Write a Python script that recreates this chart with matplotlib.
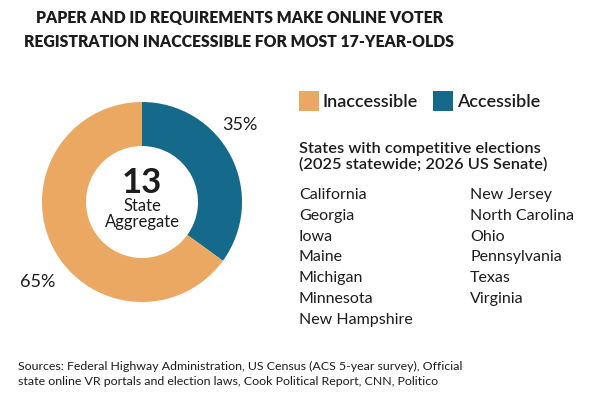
import matplotlib
matplotlib.use("Agg")
import matplotlib.pyplot as plt
from matplotlib.patches import Rectangle

plt.rcParams['font.family'] = ['Lato', 'DejaVu Sans']

title_lines = ["PAPER AND ID REQUIREMENTS MAKE ONLINE VOTER",
               "REGISTRATION INACCESSIBLE FOR MOST 17-YEAR-OLDS"]
categories = ["Inaccessible", "Accessible"]
values = [65, 35]
colors = ["#EBA862", "#156A8B"]
center_number = "13"
center_label = "State\nAggregate"
subheading = "States with competitive elections\n(2025 statewide; 2026 US Senate)"
states_col1 = ["California", "Georgia", "Iowa", "Maine", "Michigan", "Minnesota", "New Hampshire"]
states_col2 = ["New Jersey", "North Carolina", "Ohio", "Pennsylvania", "Texas", "Virginia"]
sources = ("Sources: Federal Highway Administration, US Census (ACS 5-year survey), Official\n"
           "state online VR portals and election laws, Cook Political Report, CNN, Politico")

W, H = 592, 406
fig = plt.figure(figsize=(W / 100, H / 100), dpi=100)
fig.patch.set_facecolor("white")
TXT = "#1c1c1c"

def px(x, y):
    return (x / W, 1 - y / H)

# Title
for i, line in enumerate(title_lines):
    fig.text(*px(239.5, 18 + i * 24), line, ha="center", va="center",
             fontsize=11.35, fontweight="heavy", color=TXT)

# Donut
cx, cy, r = 142, 203, 100
ax = fig.add_axes([(cx - r) / W, 1 - (cy + r) / H, 2 * r / W, 2 * r / H])
ax.pie(values[::-1], colors=colors[::-1], startangle=90, counterclock=False,
       wedgeprops=dict(width=0.44, edgecolor="none"))
ax.set_xlim(-1, 1)
ax.set_ylim(-1, 1)
ax.set_aspect("equal")
ax.axis("off")
ax.text(0.98, 0.78, f"{values[1]}%", ha="center", va="center", fontsize=13, color=TXT)
ax.text(-1.04, -0.79, f"{values[0]}%", ha="center", va="center", fontsize=13, color=TXT)
ax.text(0, 0.20, center_number, ha="center", va="center", fontsize=25, fontweight="bold", color=TXT)
ax.text(0, -0.11, center_label, ha="center", va="center", fontsize=12, color=TXT, linespacing=0.95)

# Legend
leg_x = [299, 433]
for i, (cat, col) in enumerate(zip(categories, colors)):
    x0 = leg_x[i]
    fig.patches.append(Rectangle(px(x0, 112), 20 / W, 20 / H, transform=fig.transFigure,
                                 facecolor=col, edgecolor="none"))
    fig.text(*px(x0 + 24, 102), cat, ha="left", va="center", fontsize=13,
             fontweight="semibold", color=TXT)

# Subheading
fig.text(*px(299, 157), subheading, ha="left", va="center", fontsize=11.8,
         fontweight="semibold", color=TXT, linespacing=1.1)

# States list
for i, s in enumerate(states_col1):
    fig.text(*px(299, 195 + i * 20.8), s, ha="left", va="center", fontsize=11.5, color=TXT)
for i, s in enumerate(states_col2):
    fig.text(*px(470, 195 + i * 20.8), s, ha="left", va="center", fontsize=11.5, color=TXT)

# Sources
fig.text(*px(18, 374), sources, ha="left", va="center", fontsize=8.9, color=TXT, linespacing=1.5)

fig.savefig("out.png", dpi=100, facecolor="white")
